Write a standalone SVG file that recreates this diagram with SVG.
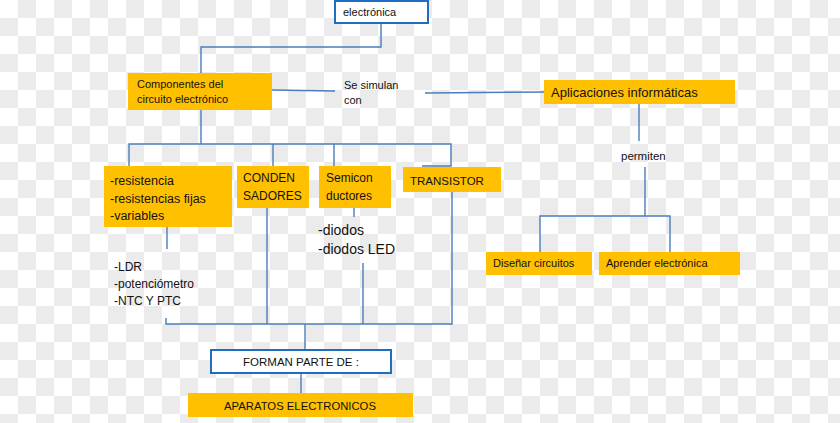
<svg xmlns="http://www.w3.org/2000/svg" width="840" height="423" viewBox="0 0 840 423">
  <defs>
    <pattern id="checker" x="0" y="0" width="36" height="36" patternUnits="userSpaceOnUse">
      <rect x="0" y="0" width="36" height="36" fill="#ffffff"/>
      <rect x="18" y="0" width="18" height="18" fill="#ebebeb"/>
      <rect x="0" y="18" width="18" height="18" fill="#ebebeb"/>
    </pattern>
    <style>
      .box { fill: #ffc000; }
      .wbox { fill: #ffffff; stroke: #1f6cc1; stroke-width: 2; }
      .ln { fill: none; stroke: #4a7ebb; stroke-width: 1.4; }
      text { font-family: "Liberation Sans", Arial, sans-serif; fill: #111111; }
      .s10 { font-size: 11px; }
      .s11 { font-size: 11px; }
      .s115 { font-size: 11.5px; }
      .s12 { font-size: 12px; }
      .s125 { font-size: 12.5px; }
      .s13 { font-size: 13px; }
    </style>
  </defs>
  <rect x="0" y="0" width="840" height="423" fill="url(#checker)"/>

  <g id="connectors">
    <polyline class="ln" points="381,23 381,47 201,47 201,73"/>
    <polyline class="ln" points="272,90 335,91"/>
    <polyline class="ln" points="425,93 545,92"/>
    <polyline class="ln" points="639,104 639,141"/>
    <polyline class="ln" points="645,167 645,216"/>
    <polyline class="ln" points="540,252 540,216 670,216 670,252"/>
    <polyline class="ln" points="201,110 201,144"/>
    <polyline class="ln" points="129,166 129,144 451,144 451,166 422,166"/>
    <polyline class="ln" points="273,144 273,166"/>
    <polyline class="ln" points="334,144 334,166"/>
    <polyline class="ln" points="354,208 354,217"/>
    <polyline class="ln" points="167,227 167,249"/>
    <polyline class="ln" points="166,318 166,324 452,324 452,192"/>
    <polyline class="ln" points="267,208 267,324"/>
    <polyline class="ln" points="363,263 363,324"/>
    <polyline class="ln" points="305,324 305,350"/>
    <polyline class="ln" points="301,373 301,393"/>
  </g>

  <g id="electronica">
    <rect class="wbox" x="335" y="1" width="93" height="22"/>
    <text class="s11" x="343" y="16">electrónica</text>
  </g>

  <g id="componentes">
    <rect class="box" x="128" y="73" width="144" height="37"/>
    <text class="s10" x="137" y="88">Componentes  del</text>
    <text class="s10" x="137" y="103">circuito electrónico</text>
  </g>

  <g id="se-simulan">
    <text class="s11" x="344" y="89">Se simulan</text>
    <text class="s11" x="344" y="104">con</text>
  </g>

  <g id="aplicaciones">
    <rect class="box" x="544" y="80" width="191" height="24"/>
    <text class="s13" x="551" y="97">Aplicaciones informáticas</text>
  </g>

  <g id="permiten">
    <text class="s115" x="621" y="160">permiten</text>
  </g>

  <g id="disenar">
    <rect class="box" x="486" y="252" width="106" height="23"/>
    <text class="s11" x="493" y="267">Diseñar circuitos</text>
  </g>

  <g id="aprender">
    <rect class="box" x="599" y="252" width="141" height="23"/>
    <text class="s11" x="606" y="267">Aprender electrónica</text>
  </g>

  <g id="resistencia">
    <rect class="box" x="104" y="166" width="128" height="61"/>
    <text class="s125" x="110" y="185">-resistencia</text>
    <text class="s125" x="110" y="203">-resistencias fijas</text>
    <text class="s125" x="110" y="220">-variables</text>
  </g>

  <g id="condensadores">
    <rect class="box" x="237" y="166" width="72" height="42"/>
    <text class="s12" x="243" y="182">CONDEN</text>
    <text class="s12" x="243" y="200">SADORES</text>
  </g>

  <g id="semiconductores">
    <rect class="box" x="319" y="166" width="72" height="42"/>
    <text class="s12" x="326" y="182">Semicon</text>
    <text class="s12" x="326" y="200">ductores</text>
  </g>

  <g id="transistor">
    <rect class="box" x="403" y="167" width="98" height="25"/>
    <text class="s115" x="410" y="185">TRANSISTOR</text>
  </g>

  <g id="diodos">
    <text style="font-size:14px" x="318" y="235">-diodos</text>
    <text style="font-size:14px" x="318" y="254">-diodos LED</text>
  </g>

  <g id="ldr">
    <text class="s12" x="114" y="271">-LDR</text>
    <text class="s12" x="114" y="288">-potenciómetro</text>
    <text class="s12" x="114" y="305">-NTC Y PTC</text>
  </g>

  <g id="forman">
    <rect class="wbox" x="211" y="350" width="180" height="23"/>
    <text class="s115" x="301" y="366" text-anchor="middle">FORMAN PARTE DE :</text>
  </g>

  <g id="aparatos">
    <rect class="box" x="188" y="393" width="225" height="24"/>
    <text style="font-size:11.3px" x="300" y="410" text-anchor="middle">APARATOS ELECTRONICOS</text>
  </g>
</svg>
